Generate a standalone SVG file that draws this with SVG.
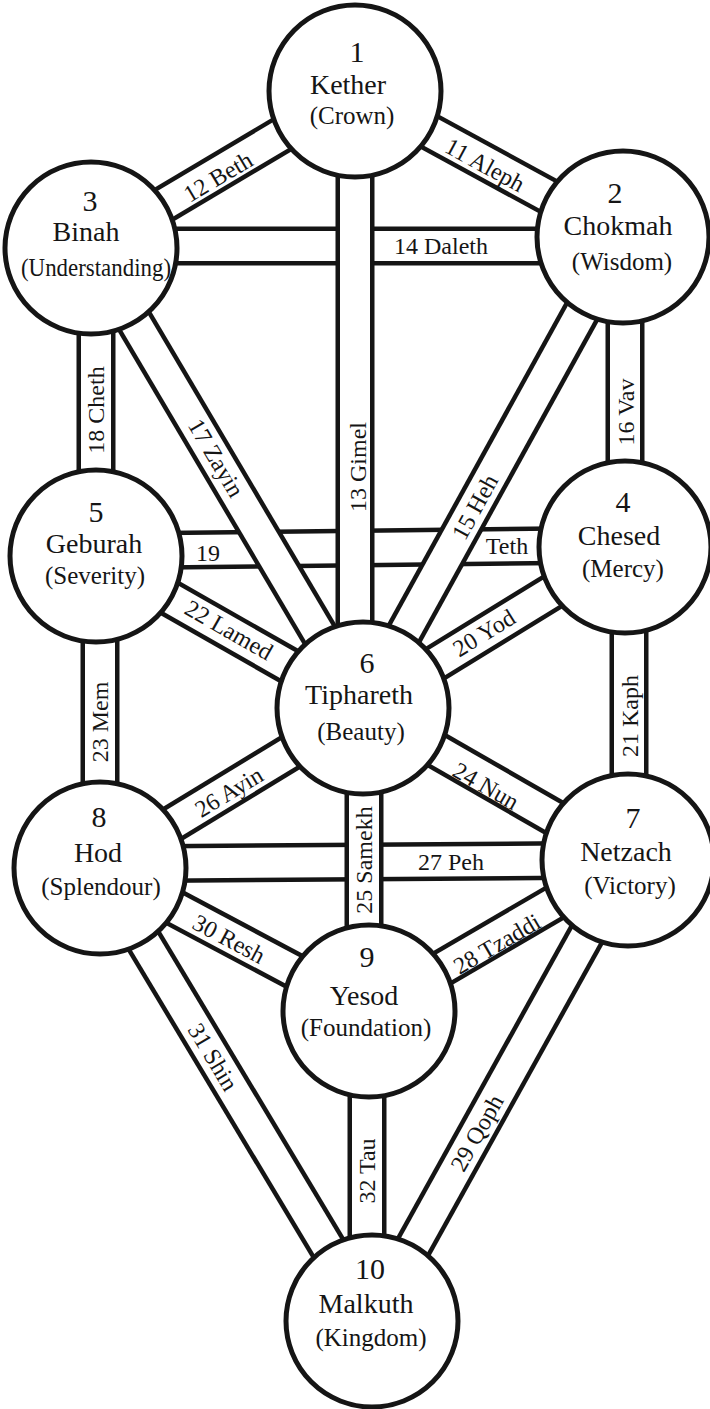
<svg xmlns="http://www.w3.org/2000/svg" width="710" height="1409" viewBox="0 0 710 1409">
<style>
.o{stroke:#151515;stroke-width:39;fill:none}
.i{stroke:#fff;stroke-width:30;fill:none}
.node circle{fill:#fff;stroke:#151515;stroke-width:5}
text{font-family:"Liberation Serif","DejaVu Serif",serif;fill:#151515;text-anchor:middle}
.num{font-size:30px}
.nm{font-size:28px}
.sub{font-size:25px}
.pl{font-size:24px;dominant-baseline:central}
</style>
<rect width="710" height="1409" fill="#fff"/>
<g id="connectors">
  <g id="c14"><line class="o" x1="91" y1="246" x2="623" y2="246"/><line class="i" x1="91" y1="246" x2="623" y2="246"/></g>
  <g id="c19"><line class="o" x1="96" y1="551" x2="625" y2="545"/><line class="i" x1="96" y1="551" x2="625" y2="545"/></g>
  <g id="c27"><line class="o" x1="100" y1="864" x2="628" y2="860"/><line class="i" x1="100" y1="864" x2="628" y2="860"/></g>
  <g id="c13"><line class="o" x1="355" y1="91" x2="355" y2="708"/><line class="i" x1="355" y1="91" x2="355" y2="708"/></g>
  <g id="c25"><line class="o" x1="364" y1="708" x2="364" y2="1011"/><line class="i" x1="364" y1="708" x2="364" y2="1011"/></g>
  <g id="c17"><line class="o" x1="91" y1="248" x2="363" y2="708"/><line class="i" x1="91" y1="248" x2="363" y2="708"/></g>
  <g id="c15"><line class="o" x1="623" y1="237" x2="363" y2="708"/><line class="i" x1="623" y1="237" x2="363" y2="708"/></g>
  <g id="c12"><line class="o" x1="91" y1="248" x2="355" y2="91"/><line class="i" x1="91" y1="248" x2="355" y2="91"/></g>
  <g id="c11"><line class="o" x1="355" y1="91" x2="623" y2="237"/><line class="i" x1="355" y1="91" x2="623" y2="237"/></g>
  <g id="c18"><line class="o" x1="96" y1="248" x2="96" y2="556"/><line class="i" x1="96" y1="248" x2="96" y2="556"/></g>
  <g id="c16"><line class="o" x1="625" y1="237" x2="625" y2="547"/><line class="i" x1="625" y1="237" x2="625" y2="547"/></g>
  <g id="c22"><line class="o" x1="96" y1="556" x2="363" y2="708"/><line class="i" x1="96" y1="556" x2="363" y2="708"/></g>
  <g id="c20"><line class="o" x1="625" y1="547" x2="363" y2="708"/><line class="i" x1="625" y1="547" x2="363" y2="708"/></g>
  <g id="c23"><line class="o" x1="100" y1="556" x2="100" y2="868"/><line class="i" x1="100" y1="556" x2="100" y2="868"/></g>
  <g id="c21"><line class="o" x1="629" y1="547" x2="629" y2="860"/><line class="i" x1="629" y1="547" x2="629" y2="860"/></g>
  <g id="c24"><line class="o" x1="363" y1="708" x2="628" y2="860"/><line class="i" x1="363" y1="708" x2="628" y2="860"/></g>
  <g id="c26"><line class="o" x1="363" y1="708" x2="100" y2="868"/><line class="i" x1="363" y1="708" x2="100" y2="868"/></g>
  <g id="c28"><line class="o" x1="628" y1="860" x2="369" y2="1011"/><line class="i" x1="628" y1="860" x2="369" y2="1011"/></g>
  <g id="c30"><line class="o" x1="100" y1="868" x2="369" y2="1011"/><line class="i" x1="100" y1="868" x2="369" y2="1011"/></g>
  <g id="c31"><line class="o" x1="100" y1="868" x2="372" y2="1321"/><line class="i" x1="100" y1="868" x2="372" y2="1321"/></g>
  <g id="c29"><line class="o" x1="628" y1="860" x2="372" y2="1321"/><line class="i" x1="628" y1="860" x2="372" y2="1321"/></g>
  <g id="c32"><line class="o" x1="367" y1="1011" x2="367" y2="1321"/><line class="i" x1="367" y1="1011" x2="367" y2="1321"/></g>
</g>
<g id="path-labels">
  <text class="pl" transform="translate(218,177) rotate(-30.7)">12 Beth</text>
  <text class="pl" transform="translate(485,165) rotate(28.6)">11 Aleph</text>
  <text class="pl" transform="translate(441,246)">14 Daleth</text>
  <text class="pl" transform="translate(358,467) rotate(-90)">13 Gimel</text>
  <text class="pl" transform="translate(216,458) rotate(59.4)">17 Zayin</text>
  <text class="pl" transform="translate(96,410) rotate(-90)">18 Cheth</text>
  <text class="pl" transform="translate(475,507) rotate(-61.1)">15 Heh</text>
  <text class="pl" transform="translate(626,412) rotate(-90)">16 Vav</text>
  <text class="pl" transform="translate(208,553)">19</text>
  <text class="pl" transform="translate(507,546)">Teth</text>
  <text class="pl" transform="translate(229,630) rotate(29.7)">22 Lamed</text>
  <text class="pl" transform="translate(484,633) rotate(-31.6)">20 Yod</text>
  <text class="pl" transform="translate(100,722) rotate(-90)">23 Mem</text>
  <text class="pl" transform="translate(630,716) rotate(-90)">21 Kaph</text>
  <text class="pl" transform="translate(486,786) rotate(29.8)">24 Nun</text>
  <text class="pl" transform="translate(229,792) rotate(-31.3)">26 Ayin</text>
  <text class="pl" transform="translate(364,860) rotate(-90)">25 Samekh</text>
  <text class="pl" transform="translate(451,862)">27 Peh</text>
  <text class="pl" transform="translate(497,944) rotate(-30.2)">28 Tzaddi</text>
  <text class="pl" transform="translate(229,939) rotate(28)">30 Resh</text>
  <text class="pl" transform="translate(213,1057) rotate(59)">31 Shin</text>
  <text class="pl" transform="translate(477,1133) rotate(-60.9)">29 Qoph</text>
  <text class="pl" transform="translate(367,1171) rotate(-90)">32 Tau</text>
</g>
<g id="kether" class="node">
  <circle cx="355" cy="91" r="86"/>
  <text class="num" x="357" y="62">1</text>
  <text class="nm" x="348" y="94">Kether</text>
  <text class="sub" x="352" y="124">(Crown)</text>
</g>
<g id="chokmah" class="node">
  <circle cx="623" cy="237" r="86"/>
  <text class="num" x="615" y="203">2</text>
  <text class="nm" x="618" y="235">Chokmah</text>
  <text class="sub" x="622" y="270">(Wisdom)</text>
</g>
<g id="binah" class="node">
  <circle cx="91" cy="248" r="86"/>
  <text class="num" x="90" y="211">3</text>
  <text class="nm" x="86" y="241">Binah</text>
  <text class="sub" x="96" y="276" textLength="150" lengthAdjust="spacingAndGlyphs">(Understanding)</text>
</g>
<g id="chesed" class="node">
  <circle cx="625" cy="547" r="86"/>
  <text class="num" x="623" y="512">4</text>
  <text class="nm" x="619" y="545">Chesed</text>
  <text class="sub" x="623" y="577">(Mercy)</text>
</g>
<g id="geburah" class="node">
  <circle cx="96" cy="556" r="86"/>
  <text class="num" x="96" y="522">5</text>
  <text class="nm" x="94" y="553">Geburah</text>
  <text class="sub" x="95" y="584">(Severity)</text>
</g>
<g id="tiphareth" class="node">
  <circle cx="363" cy="708" r="86"/>
  <text class="num" x="367" y="673">6</text>
  <text class="nm" x="359" y="704">Tiphareth</text>
  <text class="sub" x="361" y="740">(Beauty)</text>
</g>
<g id="netzach" class="node">
  <circle cx="628" cy="860" r="86"/>
  <text class="num" x="633" y="828">7</text>
  <text class="nm" x="626" y="861">Netzach</text>
  <text class="sub" x="630" y="894">(Victory)</text>
</g>
<g id="hod" class="node">
  <circle cx="100" cy="868" r="86"/>
  <text class="num" x="99" y="827">8</text>
  <text class="nm" x="98" y="862">Hod</text>
  <text class="sub" x="101" y="895">(Splendour)</text>
</g>
<g id="yesod" class="node">
  <circle cx="369" cy="1011" r="86"/>
  <text class="num" x="367" y="967">9</text>
  <text class="nm" x="364" y="1005">Yesod</text>
  <text class="sub" x="366" y="1036">(Foundation)</text>
</g>
<g id="malkuth" class="node">
  <circle cx="372" cy="1321" r="86"/>
  <text class="num" x="370" y="1279">10</text>
  <text class="nm" x="366" y="1313">Malkuth</text>
  <text class="sub" x="371" y="1346">(Kingdom)</text>
</g>
</svg>
